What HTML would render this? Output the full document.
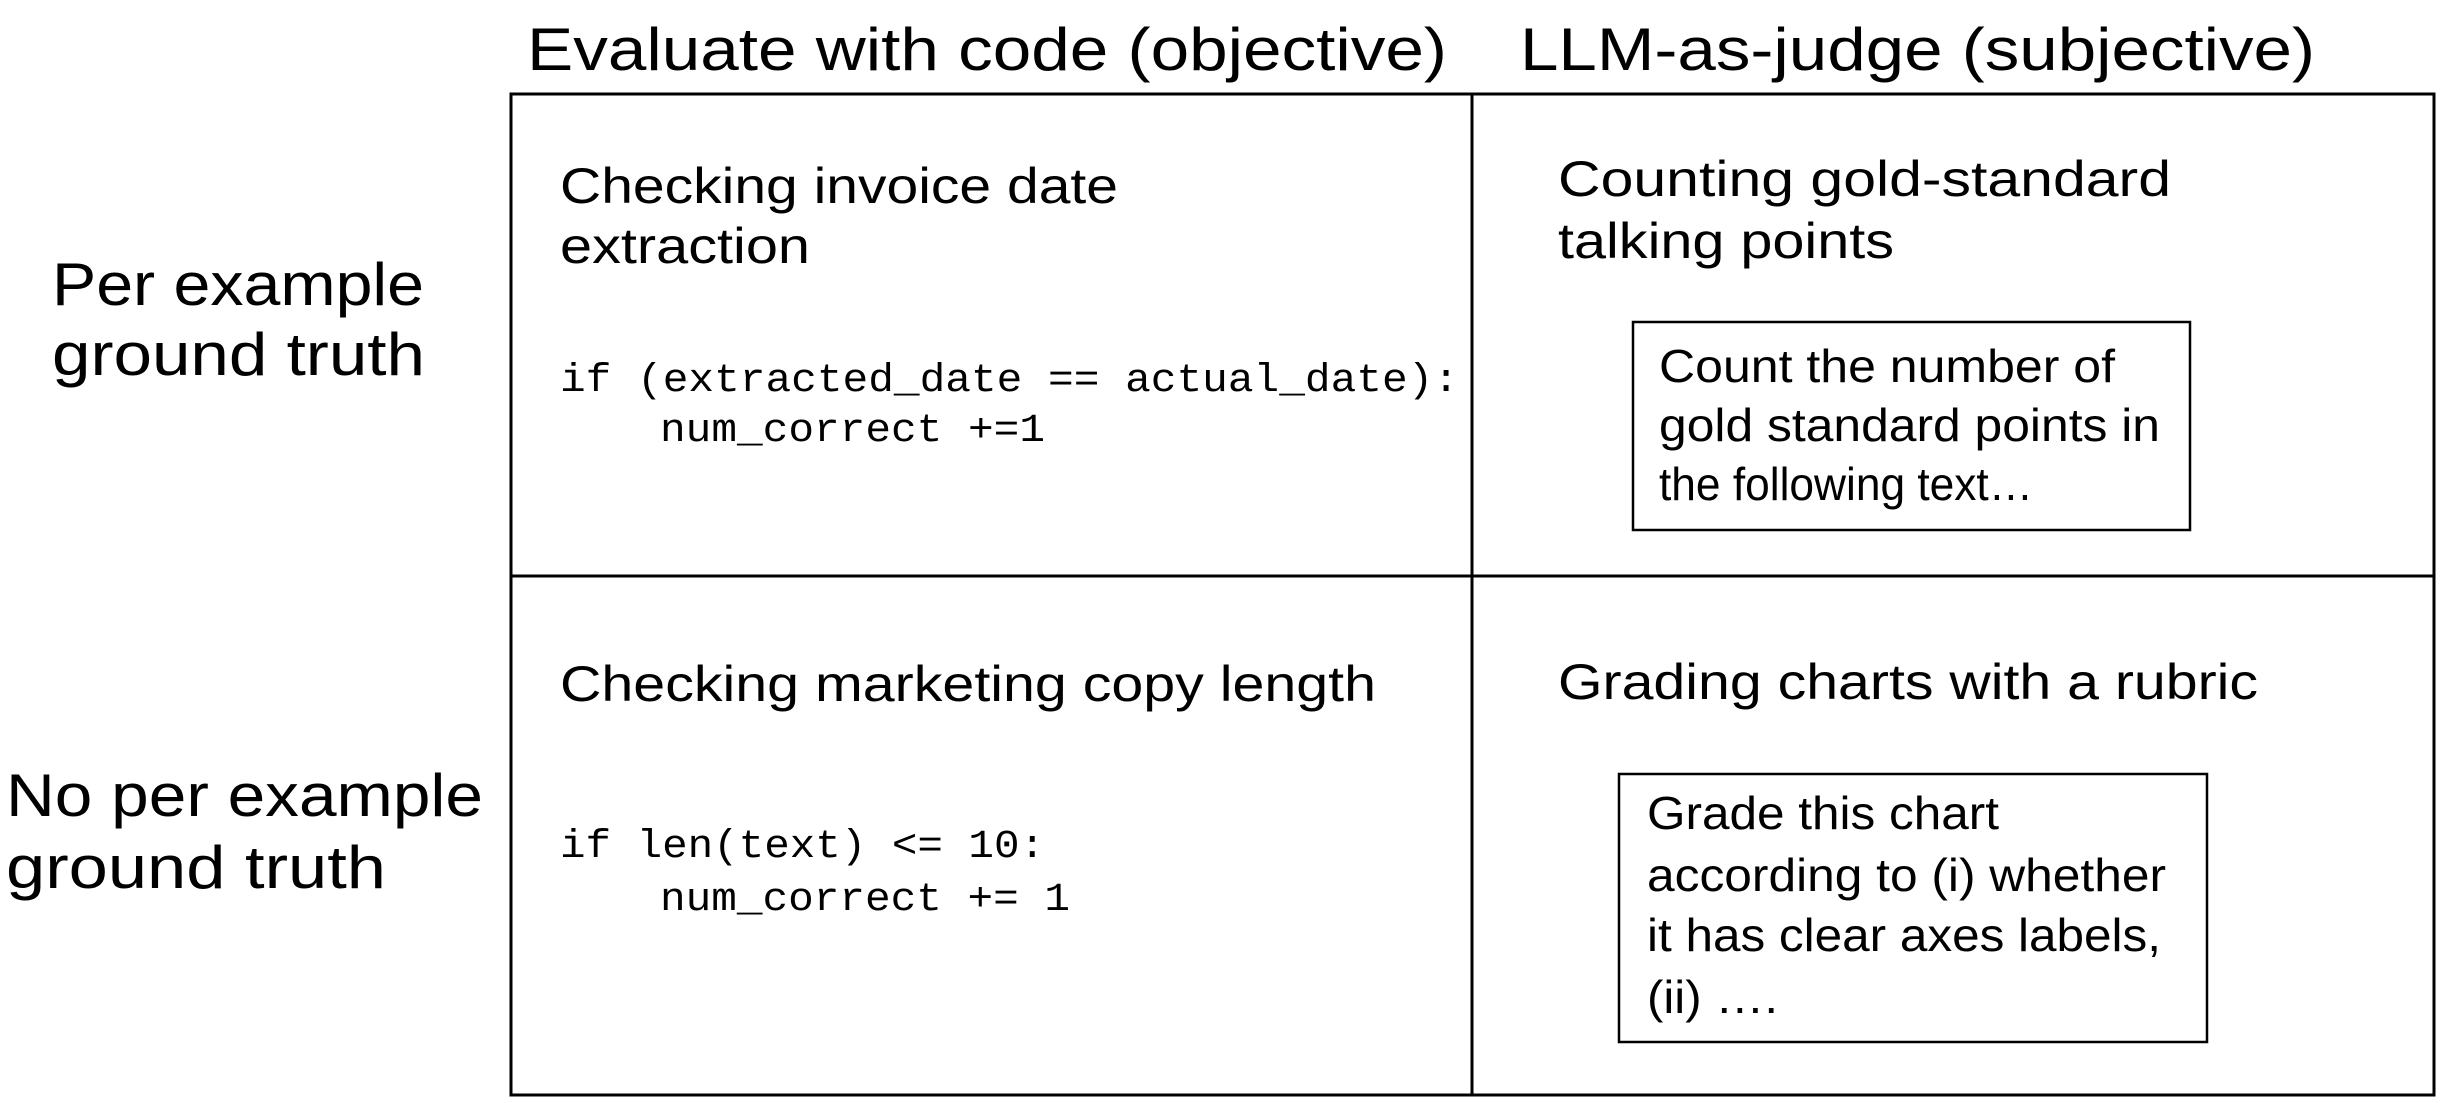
<!DOCTYPE html>
<html><head><meta charset="utf-8"><style>html,body{margin:0;padding:0;background:#fff}svg{display:block}</style></head>
<body>
<svg width="2440" height="1103" viewBox="0 0 2440 1103" xmlns="http://www.w3.org/2000/svg">
<g fill="none" stroke="#000" stroke-width="3">
<rect x="511" y="94" width="1923" height="1001"/>
<line x1="1472" y1="94" x2="1472" y2="1095"/>
<line x1="511" y1="576" x2="2434" y2="576"/>
</g>
<g fill="none" stroke="#000" stroke-width="2.5">
<rect x="1633" y="322" width="557" height="208"/>
<rect x="1619" y="774" width="588" height="268"/>
</g>
<g font-family="Liberation Sans, sans-serif" fill="#000" lengthAdjust="spacingAndGlyphs">
<text x="527" y="70" font-size="60" textLength="920" lengthAdjust="spacingAndGlyphs">Evaluate with code (objective)</text>
<text x="1520" y="70" font-size="60" textLength="795" lengthAdjust="spacingAndGlyphs">LLM-as-judge (subjective)</text>
<text x="52" y="305" font-size="60" textLength="372" lengthAdjust="spacingAndGlyphs">Per example</text>
<text x="52" y="375" font-size="60" textLength="373" lengthAdjust="spacingAndGlyphs">ground truth</text>
<text x="6" y="816" font-size="60" textLength="477" lengthAdjust="spacingAndGlyphs">No per example</text>
<text x="6" y="888" font-size="60" textLength="380" lengthAdjust="spacingAndGlyphs">ground truth</text>
<text x="560" y="203" font-size="50" textLength="558" lengthAdjust="spacingAndGlyphs">Checking invoice date</text>
<text x="560" y="263" font-size="50" textLength="250" lengthAdjust="spacingAndGlyphs">extraction</text>
<text x="1558" y="196" font-size="50" textLength="613" lengthAdjust="spacingAndGlyphs">Counting gold-standard</text>
<text x="1558" y="258" font-size="50" textLength="336" lengthAdjust="spacingAndGlyphs">talking points</text>
<text x="560" y="701" font-size="50" textLength="816" lengthAdjust="spacingAndGlyphs">Checking marketing copy length</text>
<text x="1558" y="699" font-size="50" textLength="700" lengthAdjust="spacingAndGlyphs">Grading charts with a rubric</text>
<g font-size="46">
<text x="1659" y="382" textLength="456" lengthAdjust="spacingAndGlyphs">Count the number of</text>
<text x="1659" y="441" textLength="501" lengthAdjust="spacingAndGlyphs">gold standard points in</text>
<text x="1659" y="500" textLength="374" lengthAdjust="spacingAndGlyphs">the following text…</text>
<text x="1647" y="829" textLength="352" lengthAdjust="spacingAndGlyphs">Grade this chart</text>
<text x="1647" y="891" textLength="519" lengthAdjust="spacingAndGlyphs">according to (i) whether</text>
<text x="1647" y="951" textLength="514" lengthAdjust="spacingAndGlyphs">it has clear axes labels,</text>
<text x="1647" y="1013" textLength="131" lengthAdjust="spacingAndGlyphs">(ii) ….</text>
</g>
</g>
<g font-family="Liberation Mono, monospace" font-size="40" fill="#000">
<text x="560" y="391" textLength="899" lengthAdjust="spacingAndGlyphs">if (extracted_date == actual_date):</text>
<text x="660" y="441" textLength="385" lengthAdjust="spacingAndGlyphs">num_correct +=1</text>
<text x="560" y="857" textLength="485" lengthAdjust="spacingAndGlyphs">if len(text) &lt;= 10:</text>
<text x="660" y="910" textLength="410" lengthAdjust="spacingAndGlyphs">num_correct += 1</text>
</g>
</svg>
</body></html>
